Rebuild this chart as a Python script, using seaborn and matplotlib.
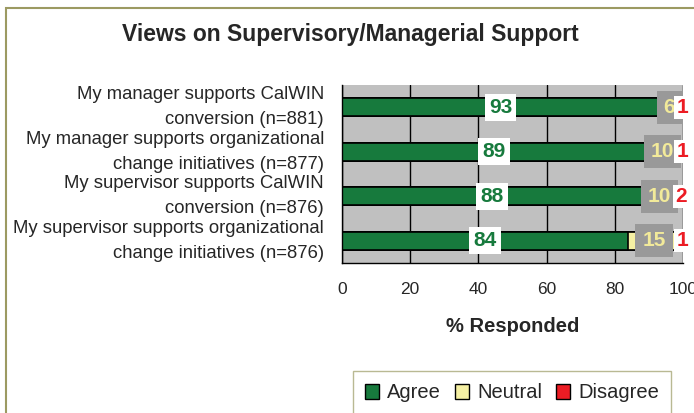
import matplotlib
matplotlib.use("Agg")
import matplotlib.pyplot as plt
from matplotlib.patches import Rectangle, Patch
import seaborn as sns
import pandas as pd
import numpy as np

categories = [
    "My manager supports CalWIN\nconversion (n=881)",
    "My manager supports organizational\nchange initiatives (n=877)",
    "My supervisor supports CalWIN\nconversion (n=876)",
    "My supervisor supports organizational\nchange initiatives (n=876)",
]
agree = [93, 89, 88, 84]
neutral = [6, 10, 10, 15]
disagree = [1, 1, 2, 1]
x_ticks = [0, 20, 40, 60, 80, 100]

sns.set_theme(style="white")
plt.rcParams['font.family'] = ['Liberation Sans', 'DejaVu Sans']

GREEN = '#177A3D'
YELLOW = '#F5F0A3'
RED = '#EC1C24'
BG = '#C0C0C0'

df = pd.DataFrame({"cat": categories, "agree": agree, "neutral": neutral, "disagree": disagree})
df["c_neutral"] = df["agree"] + df["neutral"]
df["c_total"] = df["c_neutral"] + df["disagree"]

fig = plt.figure(figsize=(6.94, 4.13), dpi=100)
ax = fig.add_axes([342/694, 1-263/413, (683-342)/694, (263-85)/413])
ax.set_facecolor(BG)

kw = dict(y="cat", orient="h", width=0.41, edgecolor='black', linewidth=1.2, ax=ax)
sns.barplot(data=df, x="c_total", color=RED, saturation=1, **kw)
sns.barplot(data=df, x="c_neutral", color=YELLOW, saturation=1, **kw)
sns.barplot(data=df, x="agree", color=GREEN, saturation=1, **kw)

ax.set_xlim(0, 100)
ax.set_ylim(3.5, -0.5)
ax.set_xticks(x_ticks)
ax.set_xticklabels([str(t) for t in x_ticks], fontsize=12.5)
for t in x_ticks:
    ax.axvline(t, color='black', lw=1, zorder=0.5)
ax.tick_params(axis='x', direction='inout', length=8, width=1, color='black', pad=10)
ax.set_yticks(range(len(categories)))
ax.set_yticklabels(categories, fontsize=13.3, linespacing=1.65)
for lab in ax.get_yticklabels():
    lab.set_va('center')
ax.set_yticks([-0.5, 0.5, 1.5, 2.5, 3.5], minor=True)
ax.tick_params(axis='y', which='major', length=0, pad=13)
ax.tick_params(axis='y', which='minor', length=5, width=1, color='black', direction='out')
for s in ['top', 'right']:
    ax.spines[s].set_visible(False)
for s in ['left', 'bottom']:
    ax.spines[s].set_color('black')
    ax.spines[s].set_linewidth(1)
ax.set_ylabel("")
ax.set_xlabel("% Responded", fontsize=14.5, fontweight='bold', labelpad=14)

for i in range(len(categories)):
    a, n, d = agree[i], neutral[i], disagree[i]
    ax.text(a/2, i, str(a), ha='center', va='center', fontsize=15, fontweight='bold', color=GREEN,
            bbox=dict(facecolor='white', edgecolor='none', pad=3), zorder=5)
    ax.text(a + n/2, i, str(n), ha='center', va='center', fontsize=15, fontweight='bold', color='#F2EA9A',
            bbox=dict(facecolor='#999999', edgecolor='none', pad=5), zorder=5)
    ax.text(a + n + d/2 + 0.3, i, str(d), ha='center', va='center', fontsize=15, fontweight='bold', color=RED,
            bbox=dict(facecolor='white', edgecolor='none', pad=1.5), zorder=6)

fig.suptitle("Views on Supervisory/Managerial Support", x=350/694, y=1-35/413, va='center',
             fontsize=16.5, fontweight='bold')

handles = [Patch(facecolor=GREEN, edgecolor='black'), Patch(facecolor=YELLOW, edgecolor='black'),
           Patch(facecolor=RED, edgecolor='black')]
leg = fig.legend(handles, ["Agree", "Neutral", "Disagree"], loc='center', bbox_to_anchor=(512/694, 1-393/413),
                 ncol=3, fontsize=14.5, frameon=True, fancybox=False, handlelength=0.7, handleheight=0.7,
                 handletextpad=0.4, columnspacing=0.7, borderpad=0.6)
leg.get_frame().set_edgecolor('#A8A878')
leg.get_frame().set_linewidth(1)

fig.patches.append(Rectangle((6/694, -0.2), 1.5, 1.2 - 8/413, transform=fig.transFigure,
                             facecolor='none', edgecolor='#9C9A62', linewidth=1.5))

fig.savefig("out.png", dpi=100)
